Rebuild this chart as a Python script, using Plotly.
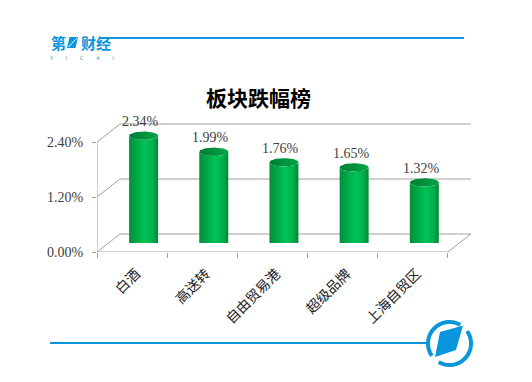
import numpy as np
import plotly.graph_objects as go

# ---------------- data ----------------
categories = ["白酒", "高送转", "自由贸易港", "超级品牌", "上海自贸区"]
values = [2.34, 1.99, 1.76, 1.65, 1.32]
y_tick_vals = [0.0, 1.2, 2.4]
y_tick_text = ["0.00%", "1.20%", "2.40%"]
title_text = "板块跌幅榜"

# ---------------- geometry ----------------
OFF = 8                          # browser body margin
W, H = 532, 382
L, T = 97 - OFF, 110 - OFF
R = 532 - 97 - 386 + OFF
B = 382 - 252 + OFF
PW, PH = W - L - R, H - T - B
X_MAX = 5.5
px_per_x = PW / X_MAX
px_per_y = 55 / 1.2
Y_MAX = PH / px_per_y

DX_PX, DY_PX = 23, 18            # 3-D depth offset in pixels
ddx, ddy = DX_PX / px_per_x, DY_PX / px_per_y
RX_PX, RY_PX = 14.5, 4.2         # cylinder radii in pixels
rx, ry = RX_PX / px_per_x, RY_PX / px_per_y
LABEL_SHIFT = 4 / px_per_x       # category label nudge to the right

GRID = "#a0a0a0"
BLUE = "#0a96dc"
SERIF = "Liberation Serif, Times New Roman, serif"
CJK = "Noto Sans CJK SC, sans-serif"


def px_x(px):
    return (px - OFF - L) / PW


def px_y(py):
    return (H - (py - OFF) - B) / PH


fig = go.Figure()

# walls / floor / gridlines
wx, wy = [], []
for v in y_tick_vals:
    wx += [0, ddx, len(categories) + ddx, None]
    wy += [v, v + ddy, v + ddy, None]
wx += [0, 0, None, 0, len(categories), len(categories) + ddx, None]
wy += [0, y_tick_vals[-1], None, 0, 0, ddy, None]
fig.add_trace(go.Scatter(x=wx, y=wy, mode="lines", line=dict(color=GRID, width=1),
                         hoverinfo="skip", showlegend=False))

# cylinders
th_low = np.linspace(np.pi, 2 * np.pi, 40)
th_full = np.linspace(0, 2 * np.pi, 80)
for i, v in enumerate(values):
    cx = i + 0.5 + ddx / 2
    yb = ddy / 2
    yt = v + ddy / 2
    bx = [cx - rx, cx - rx] + list(cx + rx * np.cos(th_low)) + [cx + rx] + \
        list(cx + rx * np.cos(th_low[::-1] - np.pi))
    by = [yb, yt] + list(yt + ry * np.sin(th_low)) + [yb] + \
        list(yb + ry * np.sin(th_low[::-1] - np.pi))
    fig.add_trace(go.Scatter(
        x=bx, y=by, mode="lines", fill="toself", line=dict(width=0),
        fillgradient=dict(type="horizontal",
                          colorscale=[[0, "#008f3a"], [0.55, "#00c457"], [0.8, "#00b04c"], [1, "#008a37"]]),
        hoverinfo="skip", showlegend=False))
    fig.add_trace(go.Scatter(
        x=list(cx + rx * np.cos(th_full)), y=list(yt + ry * np.sin(th_full)),
        mode="lines", fill="toself", line=dict(width=0),
        fillgradient=dict(type="horizontal",
                          colorscale=[[0, "#007d33"], [1, "#00a646"]]),
        hoverinfo="skip", showlegend=False))
    fig.add_annotation(x=cx, y=yt, xref="x", yref="y", text=f"{v:.2f}%",
                       showarrow=False, yshift=14, xshift=-3,
                       xanchor="center", yanchor="middle",
                       font=dict(family=SERIF, size=14, color="#404040"))

# invisible trace for the label axis
fig.add_trace(go.Scatter(x=[0.5], y=[0], xaxis="x2", mode="markers",
                         marker=dict(opacity=0), hoverinfo="skip", showlegend=False))


def txt(xp, yp, text, size, color, family=CJK):
    fig.add_annotation(x=px_x(xp), y=px_y(yp), xref="paper", yref="paper", text=text,
                       showarrow=False, xanchor="center", yanchor="middle", borderpad=0,
                       font=dict(family=family, size=size, color=color))


# title
txt(258, 97, f"<b>{title_text}</b>", 21, "#000000")

# ---- logos / decoration ----
shapes = []
shapes.append(dict(type="line", xref="paper", yref="paper", x0=px_x(100), x1=px_x(464),
                   y0=px_y(38), y1=px_y(38), line=dict(color=BLUE, width=2)))
shapes.append(dict(type="line", xref="paper", yref="paper", x0=px_x(50), x1=px_x(428),
                   y0=px_y(343), y1=px_y(343), line=dict(color=BLUE, width=2)))


def poly_path(pts):
    return "M " + " L ".join(f"{px_x(a):.5f},{px_y(b):.5f}" for a, b in pts) + " Z"


def open_path(pts):
    return "M " + " L ".join(f"{px_x(a):.5f},{px_y(b):.5f}" for a, b in pts)


# top-left logo "第一财经"
txt(58.5, 42, "<b>第</b>", 15, BLUE)
shapes.append(dict(type="path", xref="paper", yref="paper",
                   path=poly_path([(67, 48), (69.5, 37), (78, 37), (75.5, 48)]),
                   fillcolor=BLUE, line=dict(width=0)))
shapes.append(dict(type="path", xref="paper", yref="paper",
                   path=open_path([(68.5, 47), (77, 38)]),
                   line=dict(color="white", width=1)))
txt(95.5, 42, "<b>财经</b>", 15, BLUE)
txt(81, 58, "Y        I        C        A        I", 5, BLUE, "DejaVu Sans")

# bottom-right logo: ring with gaps + rhombus
cxl, cyl, rr = 449.5, 343.5, 21.5
for a0, a1 in [(60, 215), (240, 395)]:
    ang = np.radians(np.linspace(a0, a1, 40))
    pts = [(cxl + rr * np.cos(a), cyl - rr * np.sin(a)) for a in ang]
    shapes.append(dict(type="path", xref="paper", yref="paper", path=open_path(pts),
                       line=dict(color=BLUE, width=4)))
shapes.append(dict(type="path", xref="paper", yref="paper",
                   path=poly_path([(440, 332), (463, 325.5), (456, 350), (435, 357)]),
                   fillcolor=BLUE, line=dict(width=0)))

axis_common = dict(showgrid=False, zeroline=False, showline=False, fixedrange=True)
fig.update_layout(
    width=W, height=H,
    margin=dict(l=L, r=R, t=T, b=B),
    paper_bgcolor="white", plot_bgcolor="white",
    showlegend=False,
    shapes=shapes,
    xaxis=dict(range=[0, X_MAX], tickvals=list(range(len(categories) + 1)),
               ticks="outside", ticklen=5, tickcolor=GRID, showticklabels=False, **axis_common),
    xaxis2=dict(range=[0, X_MAX], overlaying="x", anchor="y", side="bottom",
                tickvals=[i + 0.5 + LABEL_SHIFT for i in range(len(categories))], ticktext=categories,
                tickangle=-45, ticks="", ticklabelstandoff=10,
                tickfont=dict(family=CJK, size=14, color="#222222"), **axis_common),
    yaxis=dict(range=[0, Y_MAX], tickvals=y_tick_vals, ticktext=y_tick_text,
               ticks="outside", ticklen=4, tickcolor=GRID, ticklabelstandoff=6,
               tickfont=dict(family=SERIF, size=14, color="#404040"), **axis_common),
)

fig.write_html("out.html")
